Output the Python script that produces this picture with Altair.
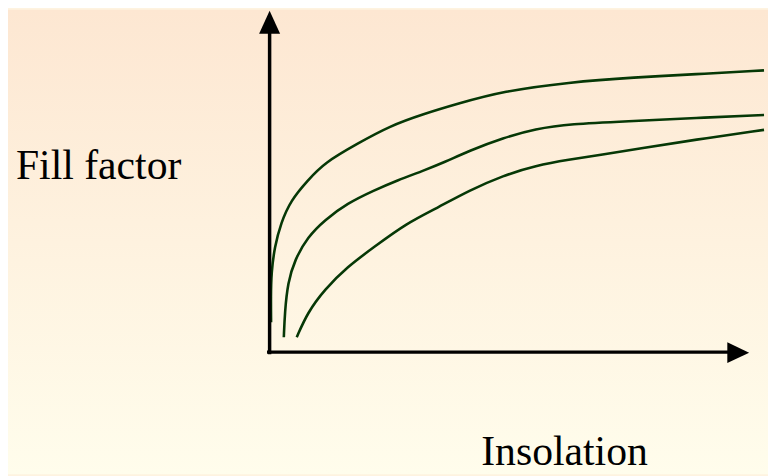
import altair as alt
import pandas as pd

# ---- data (insolation units: 0 at origin, 100 at arrow tip;
#      fill-factor units: 0 at origin, 100 at arrow tip) ----
top_x = [0.45, 0.40, 0.50, 1.18, 2.48, 4.55, 8.06, 11.57, 18.39, 25.21, 32.23, 39.05, 48.76, 62.40, 76.24, 88.64, 103.10]
top_y = [8.72, 16.28, 23.26, 30.81, 37.79, 44.48, 50.29, 55.52, 61.05, 66.28, 69.77, 72.67, 76.45, 79.07, 80.52, 81.40, 82.56]

mid_x = [3.10, 3.31, 3.93, 5.37, 8.06, 11.57, 16.32, 21.90, 26.65, 32.23, 36.50, 41.74, 48.76, 55.58, 62.40, 76.24, 88.64, 103.10]
mid_y = [4.36, 11.63, 20.35, 27.03, 33.72, 38.66, 43.60, 47.38, 50.29, 53.20, 55.60, 59.01, 62.79, 65.41, 66.86, 67.73, 68.60, 69.48]

low_x = [5.79, 8.06, 11.57, 16.32, 21.90, 28.72, 34.92, 41.74, 48.76, 55.58, 62.40, 69.42, 76.86, 88.64, 103.10]
low_y = [4.36, 11.63, 18.31, 25.00, 30.81, 37.79, 42.15, 47.38, 51.74, 54.65, 56.40, 57.85, 59.59, 62.21, 65.12]

series = ["high", "middle", "low"]

rows = []
for name, xs, ys in zip(series, [top_x, mid_x, low_x], [top_y, mid_y, low_y]):
    for i, (a, b) in enumerate(zip(xs, ys)):
        rows.append({"series": name, "i": i, "insolation": a, "ff": b})
df = pd.DataFrame(rows)

W, H = 766, 468
xscale = alt.Scale(domain=[-54.34, 103.93], nice=False, zero=False)
yscale = alt.Scale(domain=[-35.76, 100.29], nice=False, zero=False)

one = pd.DataFrame({"k": [0]})

bg = alt.Chart(one).mark_rect(
    fill={"gradient": "linear", "x1": 0, "y1": 0, "x2": 0, "y2": 1,
          "stops": [{"offset": 0, "color": "#FDE7D2"},
                    {"offset": 1, "color": "#FFFDEC"}]},
    strokeWidth=0,
).encode(x=alt.value(0), x2=alt.value(W), y=alt.value(0), y2=alt.value(H))

lines = alt.Chart(df).mark_line(
    color="#063806", strokeWidth=2.6, interpolate="basis"
).encode(
    x=alt.X("insolation:Q", scale=xscale, axis=None),
    y=alt.Y("ff:Q", scale=yscale, axis=None),
    detail="series:N",
    order=alt.Order("i:Q"),
)

vaxis = alt.Chart(one).mark_rule(color="black", strokeWidth=3.5).encode(
    x=alt.XDatum(0.14, scale=xscale),
    y=alt.YDatum(-0.6, scale=yscale),
    y2=alt.datum(94.0),
)
haxis = alt.Chart(one).mark_rule(color="black", strokeWidth=3.5).encode(
    y=alt.YDatum(0.0, scale=yscale),
    x=alt.XDatum(-0.4, scale=xscale),
    x2=alt.datum(96.0),
)
up_arrow = alt.Chart(one).mark_point(
    shape="M0,-1L0.92,1L-0.92,1Z", filled=True, size=529, color="black", opacity=1
).encode(x=alt.XDatum(0.14, scale=xscale), y=alt.YDatum(96.66, scale=yscale))
right_arrow = alt.Chart(one).mark_point(
    shape="M1,0L-1,0.95L-1,-0.95Z", filled=True, size=484, color="black", opacity=1
).encode(x=alt.XDatum(97.73, scale=xscale), y=alt.YDatum(-0.15, scale=yscale))

ylabel = alt.Chart(one).mark_text(
    text="Fill factor", align="left", baseline="alphabetic",
    font="Liberation Serif", fontSize=42, color="black"
).encode(x=alt.XDatum(-52.69, scale=xscale), y=alt.YDatum(50.87, scale=yscale))
xlabel = alt.Chart(one).mark_text(
    text="Insolation", align="left", baseline="alphabetic",
    font="Liberation Serif", fontSize=42, color="black"
).encode(x=alt.XDatum(44.21, scale=xscale), y=alt.YDatum(-33.10, scale=yscale))

chart = alt.layer(
    bg, lines, vaxis, haxis, up_arrow, right_arrow, ylabel, xlabel
).properties(
    width=W, height=H, padding=0, autosize="none", background="#FEF3E0"
).configure_view(stroke=None)

chart.save("out.html", embed_options={"renderer": "svg", "actions": False})
